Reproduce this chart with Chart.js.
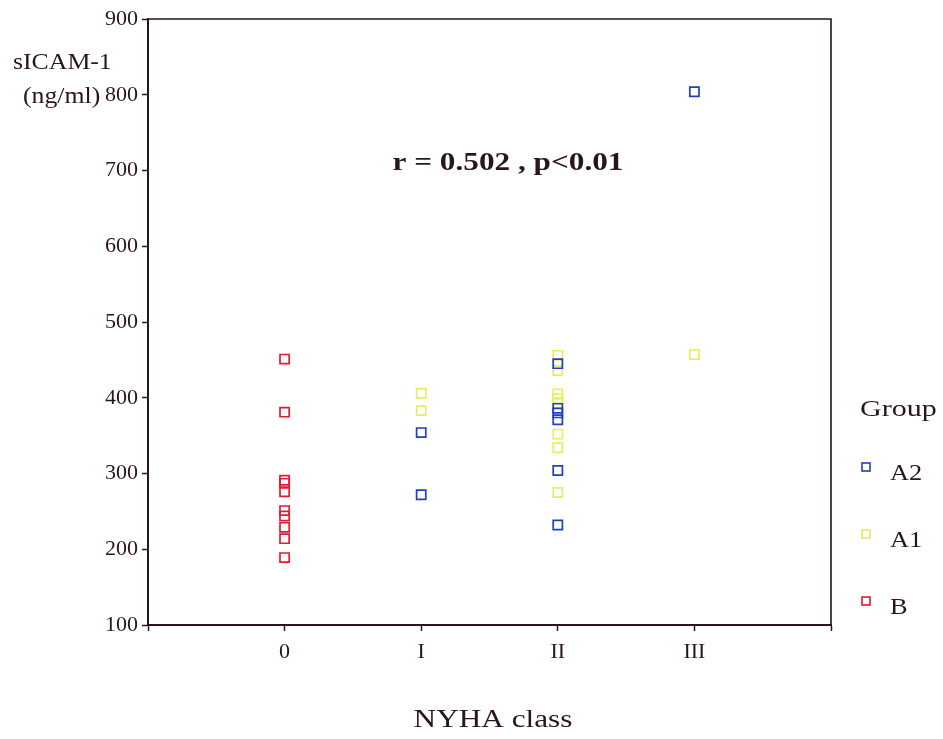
<!DOCTYPE html>
<html>
<head>
<meta charset="utf-8">
<title>sICAM-1 by NYHA class</title>
<script src="https://cdn.jsdelivr.net/npm/chart.js@4/dist/chart.umd.min.js"></script>
<style>
  html, body { margin: 0; padding: 0; background: #fff; }
  #wrap { width: 943px; height: 739px; position: relative; }
</style>
</head>
<body>
<div id="wrap"><canvas id="icamChart"></canvas></div>
<script>
"use strict";

// NYHA class labels for x = 0..3
const classLabels = ['0', 'I', 'II', 'III'];
const yTicks = [100, 200, 300, 400, 500, 600, 700, 800, 900];

// sICAM-1 (ng/ml) per patient, grouped by NYHA class index
const groupA2 = [
  [1, 354], [1, 272],
  [2, 445], [2, 386], [2, 380], [2, 371], [2, 304], [2, 232],
  [3, 804]
];
const groupA1 = [
  [1, 406], [1, 383],
  [2, 456], [2, 436], [2, 405], [2, 399], [2, 393], [2, 352], [2, 334], [2, 275],
  [3, 457]
];
const groupB = [
  [0, 451], [0, 381], [0, 291], [0, 287], [0, 276],
  [0, 251], [0, 244], [0, 229], [0, 214], [0, 189]
];

const inkColor = '#2a1518';
const serif = '"Liberation Serif", "Times New Roman", serif';

const toPoints = function (arr) {
  return arr.map(function (p) { return {x: p[0], y: p[1]}; });
};

const groups = [
  {label: 'A2', data: groupA2, color: '#1f3fc4'},
  {label: 'A1', data: groupA1, color: '#e6ee62'},
  {label: 'B',  data: groupB,  color: '#e41a2e'}
];

// text drawn a little wider than the font's natural width
const wideText = function (ctx, text, x, y, sx) {
  ctx.save();
  ctx.translate(x, y);
  ctx.scale(sx, 1);
  ctx.fillText(text, 0, 0);
  ctx.restore();
};

// box round the plot area plus the free-standing texts and legend
const decorPlugin = {
  id: 'decor',
  afterDraw(chart) {
    const ctx = chart.ctx;
    const a = chart.chartArea;
    ctx.save();
    ctx.strokeStyle = inkColor;
    ctx.lineWidth = 1.6;
    ctx.beginPath();
    ctx.moveTo(a.left, a.top);
    ctx.lineTo(a.right, a.top);
    ctx.lineTo(a.right, a.bottom);
    ctx.stroke();

    ctx.fillStyle = inkColor;
    ctx.textBaseline = 'middle';

    // y axis title
    ctx.font = '23px ' + serif;
    ctx.textAlign = 'left';
    wideText(ctx, 'sICAM-1', 13, 63, 1.12);
    wideText(ctx, '(ng/ml)', 23, 97, 1.12);

    // correlation note
    ctx.font = 'bold 25px ' + serif;
    ctx.textAlign = 'center';
    wideText(ctx, 'r = 0.502 , p<0.01', 508, 164, 1.25);

    // x axis title
    ctx.font = '25px ' + serif;
    wideText(ctx, 'NYHA class', 493, 720, 1.25);

    // legend
    ctx.font = '24px ' + serif;
    ctx.textAlign = 'left';
    wideText(ctx, 'Group', 860, 410, 1.25);
    const rows = [470, 537, 604];
    chart.data.datasets.forEach(function (ds, i) {
      ctx.strokeStyle = ds.borderColor;
      ctx.lineWidth = 1.6;
      ctx.strokeRect(862, rows[i] - 7, 8, 8);
      ctx.fillStyle = inkColor;
      wideText(ctx, ds.label, 890, rows[i] + 4, 1.1);
    });
    ctx.restore();
  }
};

const buildChart = function () {
  const ctx = document.getElementById('icamChart').getContext('2d');

  const config = {
    type: 'scatter',
    data: {
      datasets: groups.map(function (g) {
        return {
          label: g.label,
          data: toPoints(g.data),
          borderColor: g.color,
          backgroundColor: 'rgba(0,0,0,0)',
          pointStyle: 'rect',
          pointRadius: 6.5,
          pointBorderWidth: 1.7
        };
      })
    },
    options: {
      responsive: true,
      maintainAspectRatio: false,
      animation: false,
      layout: { padding: { top: 19, right: 112, left: 0, bottom: 0 } },
      plugins: {
        legend: { display: false },
        tooltip: { enabled: false }
      },
      scales: {
        x: {
          type: 'linear',
          min: -1,
          max: 4,
          afterBuildTicks(scale) {
            scale.ticks = [-1, 0, 1, 2, 3, 4].map(function (v) { return {value: v}; });
          },
          afterFit(scale) { scale.height = 114; },
          border: { color: inkColor, width: 2 },
          grid: { drawOnChartArea: false, tickLength: 6, color: inkColor, tickWidth: 1.5 },
          ticks: {
            color: inkColor,
            padding: 8,
            font: { family: serif, size: 22 },
            callback: function (value) {
              return classLabels[value] !== undefined ? classLabels[value] : '';
            }
          }
        },
        y: {
          min: 100,
          max: 900,
          afterBuildTicks(scale) {
            scale.ticks = yTicks.map(function (v) { return {value: v}; });
          },
          afterFit(scale) { scale.width = 148; },
          border: { color: inkColor, width: 2 },
          grid: { drawOnChartArea: false, tickLength: 6, color: inkColor, tickWidth: 1.5 },
          ticks: {
            color: inkColor,
            padding: 4,
            font: { family: serif, size: 22 }
          }
        }
      }
    },
    plugins: [decorPlugin]
  };

  return new Chart(ctx, config);
};

Promise.all([
  document.fonts.load('22px "Liberation Serif"'),
  document.fonts.load('bold 25px "Liberation Serif"')
]).then(buildChart, buildChart);
</script>
</body>
</html>
